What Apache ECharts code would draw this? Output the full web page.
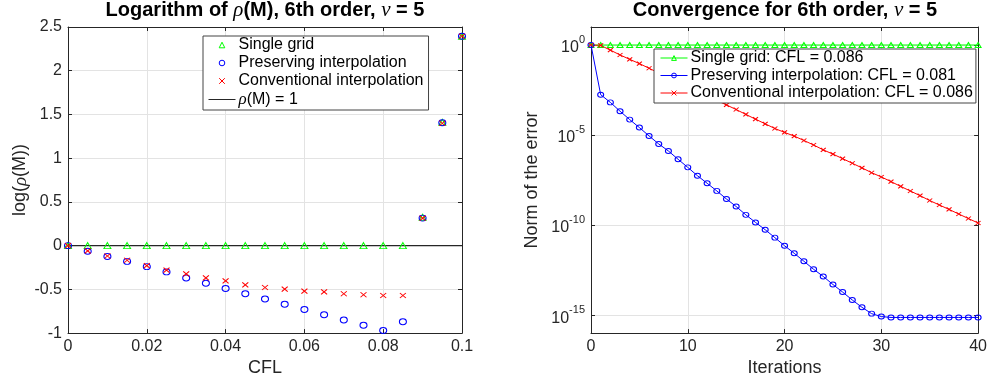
<!DOCTYPE html>
<html>
<head>
<meta charset="utf-8">
<script src="https://cdn.jsdelivr.net/npm/echarts@6/dist/echarts.min.js"></script>
<style>html,body{margin:0;padding:0;background:#fff}#c{width:990px;height:382px}</style>
</head>
<body>
<div id="c"></div>
<script>
// ---------- data: left panel ----------
var cfl = [0, 0.005, 0.01, 0.015, 0.02, 0.025, 0.03, 0.035, 0.04, 0.045, 0.05, 0.055, 0.06, 0.065, 0.07, 0.075, 0.08, 0.085, 0.09, 0.095, 0.1];
var logSingle = [0, 0, 0, 0, 0, 0, 0, 0, 0, 0, 0, 0, 0, 0, 0, 0, 0, 0, 0.325, 1.41, 2.395];
var logPreserving = [0, -0.065, -0.125, -0.18, -0.24, -0.30, -0.37, -0.43, -0.49, -0.55, -0.61, -0.67, -0.73, -0.79, -0.85, -0.91, -0.97, -0.87, 0.315, 1.405, 2.394];
var logConventional = [0, -0.06, -0.118, -0.167, -0.228, -0.28, -0.323, -0.369, -0.403, -0.449, -0.479, -0.498, -0.52, -0.528, -0.55, -0.562, -0.57, -0.57, 0.315, 1.40, 2.394];
var refLineX = [0, 0.1];
var refLineY = [0, 0];

// ---------- data: right panel ----------
var iterations = [0,1,2,3,4,5,6,7,8,9,10,11,12,13,14,15,16,17,18,19,20,21,22,23,24,25,26,27,28,29,30,31,32,33,34,35,36,37,38,39,40];
var errSingle = [1,1,1,1,1,1,1,1,1,1,1,1,1,1,1,1,1,1,1,1,1,1,1,1,1,1,1,1,1,1,1,1,1,1,1,1,1,1,1,1,1];
var errPreserving = [1, 1.74e-3, 6.5e-4, 2.1e-4, 7.2e-5, 2.6e-5, 8.9e-6, 3.2e-6, 1.3e-6, 4.5e-7, 1.6e-7, 5.5e-8, 2.1e-8, 7.9e-9, 2.8e-9, 1.07e-9, 3.7e-10, 1.4e-10, 5.5e-11, 2.0e-11, 7.1e-12, 2.7e-12, 9.8e-13, 3.5e-13, 1.4e-13, 5.0e-14, 1.9e-14, 6.9e-15, 2.7e-15, 1.2e-15, 8.3e-16, 7.4e-16, 7.4e-16, 7.4e-16, 7.4e-16, 7.4e-16, 7.4e-16, 7.4e-16, 7.4e-16, 7.4e-16, 7.4e-16];
var errConventional = [1, 0.95, 0.52, 0.28, 0.16, 0.093, 0.051, 0.028, 0.016, 8.7e-3, 4.9e-3, 2.7e-3, 1.5e-3, 8.3e-4, 4.7e-4, 2.6e-4, 1.4e-4, 7.6e-5, 4.2e-5, 2.3e-5, 1.4e-5, 8.7e-6, 5.0e-6, 2.8e-6, 1.5e-6, 8.7e-7, 4.9e-7, 2.7e-7, 1.5e-7, 8.1e-8, 4.7e-8, 2.6e-8, 1.4e-8, 7.8e-9, 4.3e-9, 2.3e-9, 1.3e-9, 7.4e-10, 4.1e-10, 2.3e-10, 1.3e-10];
var logTickValues = [1e-15, 1e-10, 1e-5, 1];

function pairs(xs, ys) { return xs.map(function (x, i) { return [x, ys[i]]; }); }

var FONT = 'Liberation Sans';
var AX = '#262626';
var GRIDC = '#e3e3e3';
var CROSS = 'path://M0,0L10,10M10,0L0,10';
var GREEN = '#00ff00', BLUE = '#0000ff', RED = '#ff0000';
var CLEAR = 'rgba(0,0,0,0)';

function boxAxis(base, pos, extra) {
  var a = {
    gridIndex: base.gridIndex, position: pos, type: base.type,
    min: base.min, max: base.max, interval: base.interval,
    axisLine: { show: true, onZero: false, lineStyle: { color: AX, width: 1 } },
    axisTick: { show: true, inside: true, length: 4, lineStyle: { color: AX } },
    axisLabel: { show: false },
    splitLine: { show: false }
  };
  if (extra) for (var k in extra) a[k] = extra[k];
  return a;
}

var leftX = {
  gridIndex: 0, type: 'value', min: 0, max: 0.1, interval: 0.02,
  name: 'CFL', nameLocation: 'middle', nameGap: 22,
  nameTextStyle: { fontFamily: FONT, fontSize: 18, color: AX },
  axisLine: { onZero: false, lineStyle: { color: AX } },
  axisTick: { inside: true, length: 4, lineStyle: { color: AX } },
  axisLabel: { fontFamily: FONT, fontSize: 16, color: AX, margin: 5 },
  splitLine: { show: true, lineStyle: { color: GRIDC } }
};
var leftY = {
  gridIndex: 0, type: 'value', min: -1, max: 2.5, interval: 0.5,
  name: 'log({i|ρ}(M))', nameLocation: 'middle', nameGap: 38,
  nameTextStyle: { fontFamily: FONT, fontSize: 18, color: AX,
    rich: { i: { fontFamily: 'Liberation Serif', fontStyle: 'italic', fontSize: 19, color: AX } } },
  axisLine: { onZero: false, lineStyle: { color: AX } },
  axisTick: { inside: true, length: 4, lineStyle: { color: AX } },
  axisLabel: { fontFamily: FONT, fontSize: 16, color: AX, margin: 6 },
  splitLine: { show: true, lineStyle: { color: GRIDC } }
};
var rightX = {
  gridIndex: 1, type: 'value', min: 0, max: 40, interval: 10,
  name: 'Iterations', nameLocation: 'middle', nameGap: 22,
  nameTextStyle: { fontFamily: FONT, fontSize: 18, color: AX },
  axisLine: { onZero: false, lineStyle: { color: AX } },
  axisTick: { inside: true, length: 4, lineStyle: { color: AX } },
  axisLabel: { fontFamily: FONT, fontSize: 16, color: AX, margin: 5 },
  splitLine: { show: true, lineStyle: { color: GRIDC } }
};
var rightY = {
  gridIndex: 1, type: 'log', logBase: 10, min: 1e-16, max: 10,
  name: 'Norm of the error', nameLocation: 'middle', nameGap: 50,
  nameTextStyle: { fontFamily: FONT, fontSize: 18, color: AX },
  axisLine: { onZero: false, lineStyle: { color: AX } },
  axisTick: { inside: true, length: 4, lineStyle: { color: AX }, customValues: logTickValues },
  axisLabel: {
    customValues: logTickValues, margin: 6,
    formatter: function (v) { return '{b|10}{s|' + Math.round(Math.log10(v)) + '}'; },
    rich: {
      b: { fontFamily: FONT, fontSize: 16, color: AX, lineHeight: 22, verticalAlign: 'bottom' },
      s: { fontFamily: FONT, fontSize: 11, color: AX, lineHeight: 22, verticalAlign: 'top' }
    }
  },
  splitLine: { show: true, lineStyle: { color: GRIDC } }
};

function legendItem(name, color, lineOpacity, symOpacity) {
  return { name: name,
    itemStyle: { color: CLEAR, borderColor: color, borderWidth: 1, opacity: symOpacity },
    lineStyle: { color: color, width: 1, opacity: lineOpacity } };
}

var titleRich = { i: { fontFamily: 'Liberation Serif', fontStyle: 'italic', fontWeight: 'normal', fontSize: 21, color: '#000' } };

var option = {
  backgroundColor: '#fff',
  animation: false,
  title: [
    { text: 'Logarithm of {i|ρ}(M), 6th order, {i|ν} = 5', left: 265, top: 0, textAlign: 'center', padding: 0,
      textStyle: { fontFamily: FONT, fontSize: 20, fontWeight: 'bold', color: '#000', rich: titleRich } },
    { text: 'Convergence for 6th order, {i|ν} = 5', left: 785, top: 0, textAlign: 'center', padding: 0,
      textStyle: { fontFamily: FONT, fontSize: 20, fontWeight: 'bold', color: '#000', rich: titleRich } }
  ],
  grid: [
    { left: 68, top: 27, width: 394, height: 307, show: false },
    { left: 591, top: 27, width: 390, height: 307, show: false }
  ],
  xAxis: [leftX, boxAxis(leftX, 'top'), rightX, boxAxis(rightX, 'top')],
  yAxis: [leftY, boxAxis(leftY, 'right'), rightY,
    boxAxis(rightY, 'right', { axisTick: { show: true, inside: true, length: 4, lineStyle: { color: AX }, customValues: logTickValues } })],
  legend: [
    { data: [legendItem('Single grid', GREEN, 0, 1), legendItem('Preserving interpolation', BLUE, 0, 1),
             legendItem('Conventional interpolation', RED, 0, 1), legendItem('ρ(M) = 1', '#262626', 1, 0)],
      orient: 'vertical', left: 203, top: 36, padding: [1, 5, 2, 5], itemGap: 2,
      itemWidth: 27, itemHeight: 7,
      backgroundColor: '#fff', borderColor: '#444', borderWidth: 1, borderRadius: 0,
      formatter: function (n) { return n === 'ρ(M) = 1' ? '{i|ρ}(M) = 1' : n; },
      textStyle: { fontFamily: FONT, fontSize: 16, color: '#000', padding: [0, 0, 0, -2],
        rich: { i: { fontFamily: 'Liberation Serif', fontStyle: 'italic', fontSize: 17, color: '#000' } } } },
    { data: [legendItem('Single grid: CFL = 0.086', GREEN, 1, 1), legendItem('Preserving interpolation: CFL = 0.081', BLUE, 1, 1),
             legendItem('Conventional interpolation: CFL = 0.086', RED, 1, 1)],
      orient: 'vertical', left: 654, top: 49, padding: [1, 3, 2, 6], itemGap: 1.5,
      itemWidth: 27, itemHeight: 6,
      backgroundColor: '#fff', borderColor: '#444', borderWidth: 1, borderRadius: 0,
      textStyle: { fontFamily: FONT, fontSize: 16, color: '#000', padding: [0, 0, 0, -2] } }
  ],
  series: [
    { name: 'Single grid', type: 'line', xAxisIndex: 0, yAxisIndex: 0,
      data: pairs(cfl, logSingle), symbol: 'triangle', symbolSize: [7, 6], showAllSymbol: true,
      lineStyle: { opacity: 0 },
      itemStyle: { color: CLEAR, borderColor: GREEN, borderWidth: 1 } },
    { name: 'Preserving interpolation', type: 'line', xAxisIndex: 0, yAxisIndex: 0,
      data: pairs(cfl, logPreserving), symbol: 'circle', symbolSize: [7, 6], showAllSymbol: true,
      lineStyle: { opacity: 0 },
      itemStyle: { color: CLEAR, borderColor: BLUE, borderWidth: 1 } },
    { name: 'Conventional interpolation', type: 'line', xAxisIndex: 0, yAxisIndex: 0,
      data: pairs(cfl, logConventional), symbol: CROSS, symbolSize: [6, 5], showAllSymbol: true,
      lineStyle: { opacity: 0 },
      itemStyle: { color: CLEAR, borderColor: RED, borderWidth: 1 } },
    { name: 'ρ(M) = 1', type: 'line', xAxisIndex: 0, yAxisIndex: 0,
      data: pairs(refLineX, refLineY), symbol: 'none',
      lineStyle: { color: '#262626', width: 1.2 }, itemStyle: { color: '#262626' } },

    { name: 'Single grid: CFL = 0.086', type: 'line', xAxisIndex: 2, yAxisIndex: 2,
      data: pairs(iterations, errSingle), symbol: 'triangle', symbolSize: [6, 5], showAllSymbol: true,
      lineStyle: { color: GREEN, width: 1 },
      itemStyle: { color: CLEAR, borderColor: GREEN, borderWidth: 1 } },
    { name: 'Preserving interpolation: CFL = 0.081', type: 'line', xAxisIndex: 2, yAxisIndex: 2,
      data: pairs(iterations, errPreserving), symbol: 'circle', symbolSize: [6, 5], showAllSymbol: true,
      lineStyle: { color: BLUE, width: 1 },
      itemStyle: { color: CLEAR, borderColor: BLUE, borderWidth: 1 } },
    { name: 'Conventional interpolation: CFL = 0.086', type: 'line', xAxisIndex: 2, yAxisIndex: 2,
      data: pairs(iterations, errConventional), symbol: CROSS, symbolSize: [5, 4], showAllSymbol: true,
      lineStyle: { color: RED, width: 1 },
      itemStyle: { color: CLEAR, borderColor: RED, borderWidth: 1 } }
  ]
};

var chart = echarts.init(document.getElementById('c'), null, { renderer: 'canvas' });
chart.setOption(option);
</script>
</body>
</html>
